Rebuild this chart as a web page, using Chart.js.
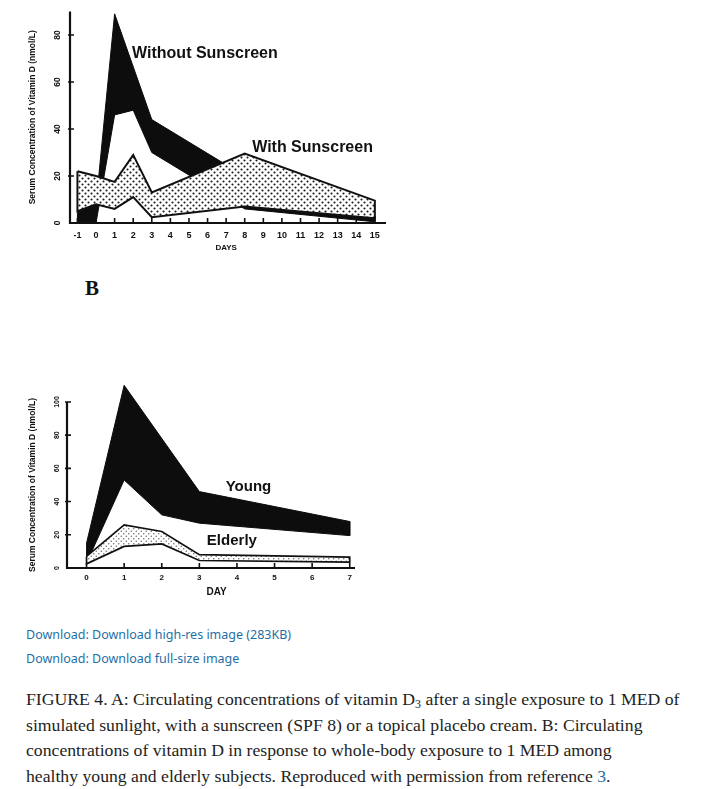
<!DOCTYPE html>
<html lang="en">

<head>
    <meta charset="UTF-8">
    <title>Figure 4 - Vitamin D</title>
    <script src="https://cdn.jsdelivr.net/npm/chart.js"></script>
    <style>
        body {
            margin: 0;
            background: #fff;
            width: 701px;
            height: 789px;
            position: relative;
            overflow: hidden;
        }

        .panel {
            position: absolute;
            left: 0;
        }

        #panelA {
            top: 0;
            width: 400px;
            height: 262px;
        }

        #panelB {
            top: 370px;
            width: 380px;
            height: 240px;
        }

        .letter {
            position: absolute;
            left: 85px;
            top: 276px;
            font: bold 21px "Liberation Serif";
            color: #111;
        }

        .links {
            position: absolute;
            left: 26px;
            top: 623px;
            font: 12.5px "Noto Sans";
            color: #1f6fa6;
            line-height: 24px;
            white-space: nowrap;
        }

        .caption {
            position: absolute;
            left: 26px;
            top: 687px;
            font: 17.7px "Liberation Serif";
            line-height: 25.5px;
            color: #1e1e1e;
            white-space: nowrap;
        }

        .caption sub {
            font-size: 12px;
            vertical-align: -3px;
            line-height: 0;
        }

        .caption .ref {
            color: #1f6fa6;
        }
    </style>
</head>

<body>
    <div id="panelA" class="panel"><canvas id="chartA"></canvas></div>
    <div class="letter">B</div>
    <div id="panelB" class="panel"><canvas id="chartB"></canvas></div>

    <div class="links">
        Download: Download high-res image (283KB)<br>
        Download: Download full-size image
    </div>

    <div class="caption">
        FIGURE 4. A: Circulating concentrations of vitamin D<sub>3</sub> after a single exposure to 1 MED of<br>
        simulated sunlight, with a sunscreen (SPF 8) or a topical placebo cream. B: Circulating<br>
        concentrations of vitamin D in response to whole-body exposure to 1 MED among<br>
        healthy young and elderly subjects. Reproduced with permission from reference <span class="ref">3</span>.
    </div>

    <script>
        // Panel A - without sunscreen (black band)
        const noSunUpperDays = [-1, 0, 1, 3, 8, 15];
        const noSunUpper = [4.5, 8, 89, 44, 20, 3];
        const noSunLowerDays = [-1, 0, 1, 2, 3, 8, 15];
        const noSunLower = [0, 0, 46, 48, 30, 6, 0.5];

        // Panel A - with sunscreen (dotted band)
        const sunDays = [-1, 0, 1, 2, 3, 8, 15];
        const sunUpper = [22, 20, 17.5, 29, 13, 29.5, 9.5];
        const sunLower = [5, 8, 6, 11, 2.5, 7, 2];

        const daysA = [-1, 0, 1, 2, 3, 4, 5, 6, 7, 8, 9, 10, 11, 12, 13, 14, 15];
        const yTicksA = [0, 20, 40, 60, 80];

        // Panel B - young
        const youngUpperDays = [0, 1, 3, 7];
        const youngUpper = [15, 110, 46, 28];
        const youngLowerDays = [0, 1, 2, 3, 7];
        const youngLower = [3, 53, 32, 27, 19.5];

        // Panel B - elderly
        const elderlyDays = [0, 1, 2, 3, 7];
        const elderlyUpper = [7, 26, 22, 8, 6.5];
        const elderlyLower = [2.5, 13, 14.5, 4.5, 3.5];

        const daysB = [0, 1, 2, 3, 4, 5, 6, 7];
        const yTicksB = [0, 20, 40, 60, 80, 100];

        const yTitle = 'Serum Concentration of Vitamin D (nmol/L)';

        // closed outline: upper edge left->right, lower edge back
        function band(xu, yu, xl, yl) {
            const pts = xu.map((d, i) => ({ x: d, y: yu[i] }));
            for (let i = xl.length - 1; i >= 0; i--) pts.push({ x: xl[i], y: yl[i] });
            pts.push(pts[0]);
            return pts;
        }

        function dots(size, r, color) {
            const c = document.createElement('canvas');
            c.width = c.height = size;
            const g = c.getContext('2d');
            g.fillStyle = '#fff';
            g.fillRect(0, 0, size, size);
            g.fillStyle = color;
            [[size / 4, size / 4], [size * 3 / 4, size * 3 / 4]].forEach(([px, py]) => {
                g.beginPath();
                g.arc(px, py, r, 0, Math.PI * 2);
                g.fill();
            });
            return g.createPattern(c, 'repeat');
        }

        // axes, inside ticks, rotated labels and text notes
        const sketch = {
            id: 'sketch',
            afterDatasetsDraw(chart, args, o) {
                const { ctx, scales: { x, y } } = chart;
                const y0 = y.getPixelForValue(0);
                const yTop = y.getPixelForValue(o.axisTop);
                ctx.save();
                ctx.strokeStyle = '#111';
                ctx.fillStyle = '#111';
                ctx.lineWidth = 2.2;
                ctx.beginPath();
                ctx.moveTo(x.left, yTop);
                ctx.lineTo(x.left, y0);
                ctx.lineTo(x.right, y0);
                ctx.stroke();

                ctx.lineWidth = 1.6;
                ctx.beginPath();
                x.ticks.forEach(t => {
                    const px = x.getPixelForValue(t.value);
                    ctx.moveTo(px, y0);
                    ctx.lineTo(px, y0 - 5);
                });
                o.yTicks.forEach(v => {
                    if (v === 0) return;
                    const py = y.getPixelForValue(v);
                    ctx.moveTo(x.left - 2, py);
                    ctx.lineTo(x.left + 4, py);
                });
                ctx.stroke();

                ctx.textAlign = 'center';
                ctx.textBaseline = 'middle';
                ctx.font = o.tickFont;
                o.yTicks.forEach(v => {
                    ctx.save();
                    ctx.translate(o.labelX, y.getPixelForValue(v));
                    ctx.rotate(-Math.PI / 2);
                    ctx.fillText(String(v), 0, 0);
                    ctx.restore();
                });

                ctx.save();
                ctx.font = o.titleFont;
                ctx.translate(o.titleX, (y0 + yTop) / 2);
                ctx.rotate(-Math.PI / 2);
                ctx.fillText(yTitle, 0, 0);
                ctx.restore();

                ctx.font = o.xTitleFont;
                ctx.fillText(o.xTitle, x.getPixelForValue(o.xTitleAt), y0 + o.xTitleGap);

                ctx.textAlign = 'left';
                o.notes.forEach(n => {
                    ctx.font = n.font;
                    ctx.fillText(n.text, x.getPixelForValue(n.x), y.getPixelForValue(n.y));
                });
                ctx.restore();
            }
        };

        function xAxis(min, max, ticks, height, size, pad) {
            return {
                type: 'linear',
                min: min,
                max: max,
                afterBuildTicks: s => { s.ticks = ticks.map(v => ({ value: v })); },
                afterFit: s => { s.height = height; },
                grid: { display: false, drawTicks: false },
                border: { display: false },
                ticks: {
                    padding: pad,
                    autoSkip: false,
                    maxRotation: 0,
                    color: '#111',
                    font: { family: 'Liberation Sans', weight: 'bold', size: size }
                }
            };
        }

        function yAxis(max, width) {
            return {
                min: 0,
                max: max,
                afterFit: s => { s.width = width; },
                ticks: { display: false },
                grid: { display: false, drawTicks: false },
                border: { display: false }
            };
        }

        const common = {
            animation: false,
            responsive: true,
            maintainAspectRatio: false,
            elements: { point: { radius: 0 }, line: { tension: 0 } },
            events: []
        };

        new Chart(document.getElementById('chartA'), {
            type: 'line',
            data: {
                datasets: [{
                    label: 'With Sunscreen',
                    data: band(sunDays, sunUpper, sunDays, sunLower),
                    fill: 'shape',
                    backgroundColor: dots(6, 1.05, '#1a1a1a'),
                    borderColor: '#111',
                    borderWidth: 2
                }, {
                    label: 'Without Sunscreen',
                    data: band(noSunUpperDays, noSunUpper, noSunLowerDays, noSunLower),
                    fill: 'shape',
                    backgroundColor: '#0d0d0d',
                    borderColor: '#0d0d0d',
                    borderWidth: 1
                }]
            },
            options: {
                ...common,
                layout: { padding: { top: 11.5, right: 14, left: 0, bottom: 0 } },
                plugins: {
                    legend: { display: false },
                    tooltip: { enabled: false },
                    sketch: {
                        axisTop: 90,
                        yTicks: yTicksA,
                        labelX: 58,
                        titleX: 33,
                        tickFont: 'bold 8.5px "Liberation Sans"',
                        titleFont: 'bold 8.5px "Liberation Sans"',
                        xTitle: 'DAYS',
                        xTitleAt: 7,
                        xTitleGap: 25,
                        xTitleFont: 'bold 8px "Liberation Sans"',
                        notes: [
                            { text: 'Without Sunscreen', x: 1.94, y: 72.3, font: 'bold 16px "Liberation Sans"' },
                            { text: 'With Sunscreen', x: 8.4, y: 31.9, font: 'bold 16px "Liberation Sans"' }
                        ]
                    }
                },
                scales: {
                    x: xAxis(-1.4, 15.6, daysA, 39, 9, 7),
                    y: yAxis(90, 70)
                }
            },
            plugins: [sketch]
        });

        new Chart(document.getElementById('chartB'), {
            type: 'line',
            data: {
                datasets: [{
                    label: 'Elderly',
                    data: band(elderlyDays, elderlyUpper, elderlyDays, elderlyLower),
                    fill: 'shape',
                    backgroundColor: dots(5, 0.75, '#666'),
                    borderColor: '#111',
                    borderWidth: 1.7
                }, {
                    label: 'Young',
                    data: band(youngUpperDays, youngUpper, youngLowerDays, youngLower),
                    fill: 'shape',
                    backgroundColor: '#0d0d0d',
                    borderColor: '#0d0d0d',
                    borderWidth: 1
                }]
            },
            options: {
                ...common,
                layout: { padding: { top: 12, right: 25, left: 0, bottom: 0 } },
                plugins: {
                    legend: { display: false },
                    tooltip: { enabled: false },
                    sketch: {
                        axisTop: 100,
                        yTicks: yTicksB,
                        labelX: 57,
                        titleX: 33,
                        tickFont: 'bold 7px "Liberation Sans"',
                        titleFont: 'bold 8.5px "Liberation Sans"',
                        xTitle: 'DAY',
                        xTitleAt: 3.46,
                        xTitleGap: 24,
                        xTitleFont: 'bold 10px "Liberation Sans"',
                        notes: [
                            { text: 'Young', x: 3.7, y: 48.8, font: 'bold 15px "Liberation Sans"' },
                            { text: 'Elderly', x: 3.2, y: 16.3, font: 'bold 15px "Liberation Sans"' }
                        ]
                    }
                },
                scales: {
                    x: xAxis(-0.52, 7.14, daysB, 42, 8, 5),
                    y: yAxis(112, 67)
                }
            },
            plugins: [sketch]
        });
    </script>
</body>

</html>
